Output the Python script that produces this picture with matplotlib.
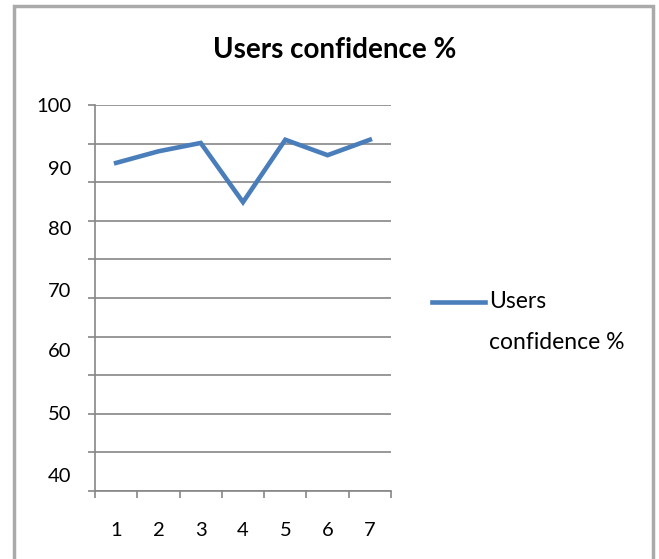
import numpy as np
import matplotlib
matplotlib.use("Agg")
import matplotlib.pyplot as plt
from matplotlib.patches import Rectangle

plt.rcParams['font.family'] = ['Lato', 'DejaVu Sans']

# --- data ---
categories = [1, 2, 3, 4, 5, 6, 7]
confidence = [91.0, 92.8, 94.1, 84.9, 94.6, 92.2, 94.6]
series_name = "Users confidence %"
ytick_labels = ["100", "90", "80", "70", "60", "50", "40"]
# where the labels sit on the value axis in the original picture
ytick_label_pos = [100.0, 90.2, 80.9, 71.2, 61.9, 52.1, 42.5]

line_color = "#4A7EBB"
grid_color = "#868686"

fig = plt.figure(figsize=(6.59, 5.59), dpi=100)
ax = fig.add_axes([95 / 659, 1 - 491 / 559, 296 / 659, 386 / 559])

ax.plot(categories, confidence, color=line_color, lw=3.3,
        solid_joinstyle='miter', label="Users\nconfidence %")

ax.set_xlim(0.5, 7.5)
ax.set_ylim(40, 100)

# gridlines and tick marks (minor), labels (major)
ax.yaxis.remove_overlapping_locs = False
ax.xaxis.remove_overlapping_locs = False
ax.set_yticks(np.linspace(40, 100, 11), minor=True)
ax.set_yticks(ytick_label_pos, ytick_labels)
ax.set_xticks(np.arange(0.5, 8.0, 1.0), minor=True)
ax.set_xticks(categories, [str(c) for c in categories])
ax.grid(True, which='minor', axis='y', color=grid_color, lw=1.2)
ax.tick_params(axis='both', which='major', length=0, labelsize=14.5, colors='#000000')
ax.tick_params(axis='y', which='major', pad=17)
ax.tick_params(axis='x', which='major', pad=22)
ax.tick_params(axis='both', which='minor', length=5, width=1.2, color=grid_color)
ax.tick_params(axis='x', which='minor', direction='out')

for side in ['top', 'right']:
    ax.spines[side].set_visible(False)
for side in ['left', 'bottom']:
    ax.spines[side].set_color(grid_color)
    ax.spines[side].set_linewidth(1.2)
ax.set_axisbelow(True)

fig.text(335 / 659, 1 - 50 / 559, series_name, ha='center', va='center',
         fontsize=20, fontweight='bold')

leg_fs = 16.5
leg = ax.legend(loc='center left', bbox_to_anchor=(411 / 659, 1 - 322 / 559),
                bbox_transform=fig.transFigure, frameon=False, fontsize=leg_fs,
                handlelength=2.35, handletextpad=0.15)
for t in leg.get_texts():
    t.set_linespacing(2.2)
# put the legend line level with the first text line, as Excel does
h = leg.get_lines()[0]
h.set_ydata(np.asarray(h.get_ydata()) + 14.4)

# chart border
fig.patches.append(Rectangle((14 / 659, -0.1), 639 / 659, 1.1 - 6 / 559,
                             transform=fig.transFigure, fill=False,
                             edgecolor='#AAAAAA', lw=2.5))

fig.savefig("out.png", dpi=100)
